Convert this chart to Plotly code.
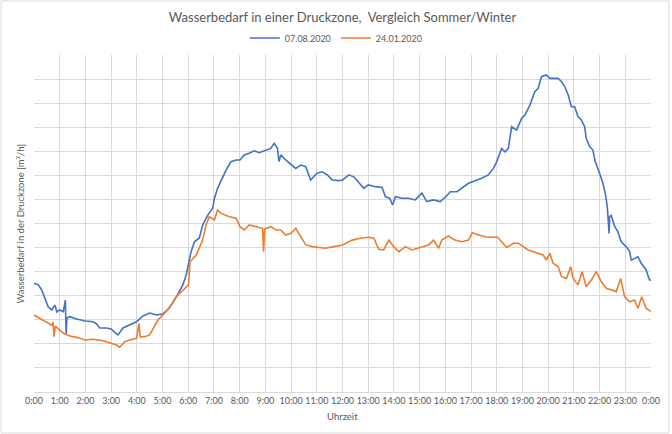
import plotly.graph_objects as go

# ---- data (hours since midnight, demand in m³/h) ----
sommer_h = [0.00, 0.17, 0.30, 0.43, 0.55, 0.69, 0.81, 0.89, 0.98, 1.14, 1.22, 1.25, 1.28, 1.40, 1.66,
            1.99, 2.30, 2.43, 2.56, 2.82, 3.00, 3.18, 3.27, 3.46, 3.72, 3.99, 4.24, 4.50, 4.76, 5.00,
            5.19, 5.39, 5.58, 5.79, 5.92, 6.01, 6.11, 6.24, 6.43, 6.56, 6.76, 6.95, 7.02, 7.14, 7.28,
            7.47, 7.66, 7.86, 8.01, 8.18, 8.37, 8.57, 8.76, 9.00, 9.21, 9.34, 9.47, 9.53, 9.60, 9.79,
            10.00, 10.18, 10.38, 10.57, 10.76, 11.01, 11.21, 11.41, 11.60, 11.86, 12.00, 12.25, 12.44,
            12.64, 12.83, 13.00, 13.28, 13.54, 13.67, 13.83, 13.95, 14.06, 14.31, 14.57, 14.83, 15.09,
            15.28, 15.54, 15.80, 16.02, 16.19, 16.45, 16.64, 16.90, 17.16, 17.41, 17.67, 17.87, 18.00,
            18.13, 18.19, 18.32, 18.45, 18.58, 18.77, 18.97, 19.10, 19.29, 19.48, 19.61, 19.74, 19.93,
            20.07, 20.26, 20.39, 20.52, 20.65, 20.78, 20.90, 21.03, 21.16, 21.29, 21.42, 21.48, 21.62,
            21.74, 21.83, 22.00, 22.13, 22.22, 22.30, 22.37, 22.39, 22.45, 22.59, 22.71, 22.84, 23.03,
            23.17, 23.23, 23.36, 23.49, 23.62, 23.81, 23.94, 24.00]
sommer_v = [45.2, 44.5, 42.4, 39.1, 35.4, 34.1, 36.1, 33.2, 34.1, 33.4, 38.2, 23.7, 30.7, 31.3, 30.3,
            29.5, 29.2, 28.3, 26.6, 26.6, 26.2, 24.5, 23.7, 26.6, 27.8, 29.2, 31.6, 32.8, 32.0, 32.4,
            34.1, 37.0, 40.3, 44.5, 48.6, 53.6, 58.3, 62.4, 64.0, 69.4, 73.5, 76.4, 80.5, 84.6, 88.1,
            92.2, 95.7, 96.4, 96.4, 98.5, 99.2, 100.2, 99.4, 100.2, 101.2, 103.3, 101.2, 95.7, 98.5, 96.4,
            94.3, 92.9, 94.3, 93.6, 88.1, 90.9, 91.5, 90.2, 88.1, 87.8, 88.1, 90.2, 89.4,
            86.7, 84.6, 86.0, 85.3, 85.0, 81.1, 80.5, 77.7, 81.1, 80.5, 80.5, 79.8, 82.6,
            79.1, 79.8, 79.1, 81.1, 83.2, 83.2, 84.6, 86.7, 87.8, 88.8, 90.2, 92.9, 95.7,
            99.0, 101.2, 99.8, 101.2, 110.2, 108.8, 113.7, 115.1, 119.2, 124.8, 126.2, 131.0, 131.7,
            130.3, 130.3, 130.3, 128.9, 126.8, 123.4, 118.5, 118.5, 114.4, 113.0, 110.2, 105.4, 101.9,
            100.5, 95.7, 90.9, 86.7, 82.6, 77.0, 65.9, 72.8, 73.5, 68.7, 66.6, 62.4, 60.4,
            58.3, 54.8, 55.5, 56.2, 53.5, 50.7, 46.5, 46.5]

winter_h = [0.00, 0.23, 0.49, 0.69, 0.74, 0.78, 0.83, 0.98, 1.14, 1.40, 1.66, 1.99, 2.30, 2.69, 3.00,
            3.21, 3.33, 3.53, 3.72, 3.99, 4.08, 4.13, 4.30, 4.50, 4.82, 5.00, 5.27, 5.53, 5.79, 6.01,
            6.07, 6.31, 6.56, 6.69, 6.82, 7.02, 7.14, 7.28, 7.60, 7.86, 8.01, 8.18, 8.37, 8.63, 8.89,
            8.93, 8.97, 9.21, 9.41, 9.60, 9.79, 10.00, 10.18, 10.38, 10.57, 10.83, 11.01, 11.34, 11.67,
            12.00, 12.38, 12.70, 13.02, 13.22, 13.41, 13.60, 13.80, 13.99, 14.19, 14.45, 14.70, 14.90,
            15.09, 15.35, 15.54, 15.74, 15.86, 16.12, 16.38, 16.64, 16.90, 17.05, 17.29, 17.55, 17.80,
            18.02, 18.19, 18.38, 18.45, 18.64, 18.84, 19.03, 19.22, 19.42, 19.61, 19.81, 19.93, 20.07,
            20.19, 20.39, 20.52, 20.71, 20.88, 20.97, 21.16, 21.32, 21.48, 21.68, 21.87, 22.07, 22.26,
            22.45, 22.65, 22.82, 22.97, 23.17, 23.36, 23.49, 23.64, 23.81, 24.00]
winter_v = [32.0, 30.6, 29.2, 27.8, 29.1, 23.0, 27.4, 25.8, 24.4, 23.3, 22.7, 21.6, 21.9, 21.3, 20.2,
            19.5, 18.6, 20.9, 21.6, 22.3, 28.5, 22.9, 23.0, 23.7, 29.9, 32.0, 34.9, 39.6, 42.4, 44.5,
            54.1, 56.9, 63.1, 69.4, 72.8, 71.5, 75.6, 74.2, 72.8, 72.2, 68.7, 67.3, 69.4, 68.7, 68.0,
            58.3, 67.7, 68.7, 67.3, 67.3, 65.2, 65.9, 68.0, 64.5, 61.1, 60.4, 60.1, 59.7, 60.4,
            61.1, 63.1, 63.9, 64.3, 63.9, 59.3, 59.0, 63.1, 60.4, 58.3, 60.4, 59.0, 59.7,
            60.4, 61.1, 63.1, 59.7, 63.1, 64.8, 63.1, 62.4, 63.1, 66.2, 65.2, 64.5, 64.3,
            64.4, 62.4, 60.1, 60.4, 61.8, 61.8, 60.4, 59.0, 58.3, 57.6, 56.9, 54.8, 57.6,
            53.5, 52.1, 47.9, 47.2, 52.1, 47.2, 44.5, 50.0, 43.7, 46.5, 50.0, 45.8, 43.1,
            42.4, 41.7, 47.2, 39.6, 37.5, 38.2, 34.8, 39.6, 34.8, 33.4]

tick_hours = list(range(25))
tick_labels = [f"{h % 24}:00" for h in tick_hours]

series_names = ["07.08.2020", "24.01.2020"]
series_colors = ["#4472C4", "#ED7D31"]

FONT = "Lato"
GRAY = "#595959"
GRID = "#D9D9D9"

fig = go.Figure()
fig.add_trace(go.Scatter(x=sommer_h, y=sommer_v, mode="lines", name=series_names[0],
                         line=dict(color=series_colors[0], width=1.6)))
fig.add_trace(go.Scatter(x=winter_h, y=winter_v, mode="lines", name=series_names[1],
                         line=dict(color=series_colors[1], width=1.6)))

fig.update_layout(
    width=672, height=434,
    margin=dict(l=34, r=19, t=55, b=42),
    paper_bgcolor="white", plot_bgcolor="white",
    font=dict(family=FONT, color=GRAY, size=9),
    title=dict(text="Wasserbedarf in einer Druckzone,  Vergleich Sommer/Winter",
               x=0.5, xref="paper", xanchor="center", y=1 - 17 / 434, yanchor="middle",
               font=dict(size=13, color=GRAY, family=FONT)),
    showlegend=True,
    legend=dict(orientation="h", x=0.49, xanchor="center", y=1 + (55 - 38) / 337, yanchor="middle",
                font=dict(size=9, color=GRAY), itemwidth=30, bgcolor="rgba(0,0,0,0)",
                tracegroupgap=0),
    xaxis=dict(range=[0, 24], tickmode="array", tickvals=tick_hours, ticktext=tick_labels,
               showgrid=True, gridcolor=GRID, gridwidth=1, zeroline=False,
               showline=True, linecolor=GRID, linewidth=1, ticks="", tickfont=dict(size=9, color=GRAY),
               fixedrange=True),
    yaxis=dict(range=[0, 140], dtick=10, showticklabels=False, showgrid=True, gridcolor=GRID,
               gridwidth=1, zeroline=False, showline=False, ticks="", fixedrange=True),
    annotations=[
        dict(text="Uhrzeit", xref="paper", yref="paper", x=0.5, y=-(416 - 392) / 337,
             xanchor="center", yanchor="middle", showarrow=False, font=dict(size=9.5, color=GRAY)),
        dict(text="Wasserbedarf in der Druckzone [m³/h]", xref="paper", yref="paper",
             x=(20 - 34) / 619, y=0.5, xanchor="center", yanchor="middle", textangle=-90,
             showarrow=False, font=dict(size=9.5, color=GRAY)),
    ],
    shapes=[
        dict(type="rect", xref="paper", yref="paper",
             x0=(1 - 34) / 619, x1=(671 - 34) / 619, y0=(392 - 433) / 337, y1=(392 - 1) / 337,
             line=dict(color=GRID, width=1), fillcolor="rgba(0,0,0,0)", layer="below"),
    ],
)

fig.write_html("out.html")
